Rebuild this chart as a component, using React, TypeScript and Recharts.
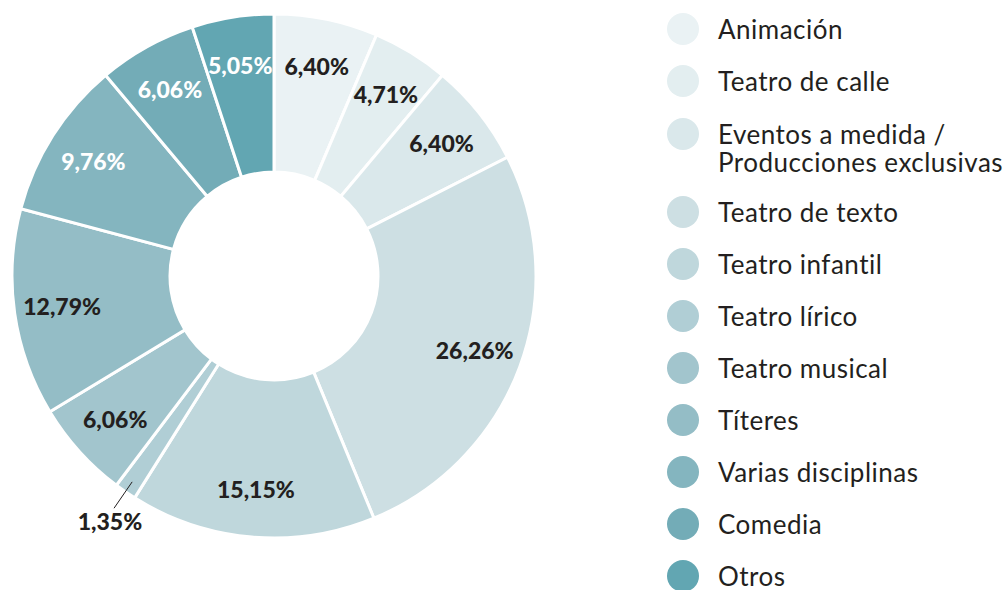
import { PieChart, Pie, Cell, Legend } from "recharts";

const categories = [
  "Animación",
  "Teatro de calle",
  "Eventos a medida /\nProducciones exclusivas",
  "Teatro de texto",
  "Teatro infantil",
  "Teatro lírico",
  "Teatro musical",
  "Títeres",
  "Varias disciplinas",
  "Comedia",
  "Otros",
];

const shares = [6.4, 4.71, 6.4, 26.26, 15.15, 1.35, 6.06, 12.79, 9.76, 6.06, 5.05];

const colors = [
  "#EAF2F4",
  "#E3EEF0",
  "#DAE8EB",
  "#CDDFE3",
  "#BFD7DC",
  "#B0CED5",
  "#A2C5CD",
  "#94BDC6",
  "#84B5BF",
  "#73ACB7",
  "#62A6B2",
];

// slices whose label is drawn in white
const lightLabels = ["Varias disciplinas", "Comedia", "Otros"];

const data = categories.map((name, i) => ({ name, value: shares[i] }));

const RAD = Math.PI / 180;
const fmt = (v: number) => v.toFixed(2).replace(".", ",") + "%";

interface LabelProps {
  cx: number;
  cy: number;
  midAngle: number;
  outerRadius: number;
  value: number;
  name: string;
}

function SliceLabel({ cx, cy, midAngle, outerRadius, value, name }: LabelProps) {
  const cos = Math.cos(-midAngle * RAD);
  const sin = Math.sin(-midAngle * RAD);
  const textStyle = {
    fontFamily: "Lato, 'Noto Sans', sans-serif",
    fontWeight: 900,
    fontSize: 23,
  };
  if (value < 2) {
    // small slice: leader line and label outside
    const r1 = outerRadius - 12;
    const r2 = outerRadius + 20;
    const r3 = outerRadius + 36;
    return (
      <g>
        <line
          x1={cx + r1 * cos}
          y1={cy + r1 * sin}
          x2={cx + r2 * cos}
          y2={cy + r2 * sin}
          stroke="#231F20"
          strokeWidth={1}
        />
        <text
          x={cx + r3 * cos + 5}
          y={cy + r3 * sin}
          textAnchor="middle"
          dominantBaseline="central"
          fill="#231F20"
          style={textStyle}
        >
          {fmt(value)}
        </text>
      </g>
    );
  }
  const r = outerRadius - 48;
  return (
    <text
      x={cx + r * cos}
      y={cy + r * sin}
      textAnchor="middle"
      dominantBaseline="central"
      fill={lightLabels.includes(name) ? "#FFFFFF" : "#231F20"}
      style={textStyle}
    >
      {fmt(value)}
    </text>
  );
}

function LegendList() {
  return (
    <div style={{ fontFamily: "Lato, 'Noto Sans', sans-serif" }}>
      {categories.map((name, i) => {
        const multi = name.includes("\n");
        return (
          <div
            key={name}
            style={{
              position: "relative",
              paddingLeft: 51,
              marginBottom: multi ? 23 : 26,
            }}
          >
            <span
              style={{
                position: "absolute",
                left: 0,
                top: multi ? -2 : -3,
                width: 32,
                height: 32,
                borderRadius: "50%",
                backgroundColor: colors[i],
              }}
            />
            <div
              style={{
                fontSize: 26,
                lineHeight: multi ? "28px" : "26px",
                letterSpacing: 0.5,
                color: "#231F20",
                whiteSpace: "pre",
              }}
            >
              {name}
            </div>
          </div>
        );
      })}
    </div>
  );
}

export default function App() {
  return (
    <div style={{ position: "absolute", left: 0, top: 0, background: "#fff" }}>
      <PieChart
        width={1007}
        height={590}
        margin={{ top: 0, right: 0, bottom: 0, left: 0 }}
      >
        <Pie
          data={data}
          dataKey="value"
          nameKey="name"
          cx={274}
          cy={276}
          outerRadius={262}
          innerRadius={104}
          startAngle={90}
          endAngle={-270}
          stroke="#FFFFFF"
          strokeWidth={3}
          label={SliceLabel}
          labelLine={false}
          isAnimationActive={false}
        >
          {data.map((d, i) => (
            <Cell key={d.name} fill={colors[i]} />
          ))}
        </Pie>
        <Legend
          content={<LegendList />}
          wrapperStyle={{ position: "absolute", left: 667, top: 16, width: 345 }}
        />
      </PieChart>
    </div>
  );
}
